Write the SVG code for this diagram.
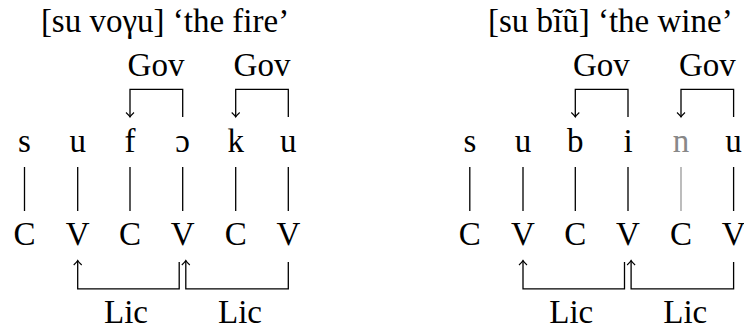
<svg xmlns="http://www.w3.org/2000/svg" width="744" height="334" viewBox="0 0 744 334">
<style>
text{font-family:"Liberation Serif","Times New Roman",serif;font-size:33px;fill:#000;text-anchor:middle}
.gray{fill:#888}
.ln{stroke:#000;stroke-width:1.3;fill:none}
.lg{stroke:#999;stroke-width:1.3;fill:none}
.arr{marker-end:url(#ah)}
</style>
<defs>
<marker id="ah" markerUnits="userSpaceOnUse" viewBox="-6 -6 8 12" refX="0" refY="0" markerWidth="8" markerHeight="12" orient="auto" overflow="visible">
<path d="M-4.5,-4 Q-1.5,-0.8 0,0 Q-1.5,0.8 -4.5,4" fill="none" stroke="#000" stroke-width="1.1"/>
</marker>
</defs>
<rect width="744" height="334" fill="#fff"/>

<!-- Left panel: [su voγu] -->
<g id="panel-fire">
<g id="title-fire"><text x="165" y="32">[su voγu] ‘the fire’</text></g>
<g id="gov1-fire"><text x="156" y="76">Gov</text></g>
<g id="gov2-fire"><text x="262" y="76">Gov</text></g>
<g id="seg-s-1"><text x="24.5" y="152">s</text></g>
<g id="seg-u-1"><text x="77.7" y="152">u</text></g>
<g id="seg-f-1"><text x="130" y="152">f</text></g>
<g id="seg-o-1"><text x="182.7" y="152">ɔ</text></g>
<g id="seg-k-1"><text x="235.7" y="152">k</text></g>
<g id="seg-u2-1"><text x="288.3" y="152">u</text></g>
<g id="cv-C1-1"><text x="24.5" y="245">C</text></g>
<g id="cv-V1-1"><text x="77.7" y="245">V</text></g>
<g id="cv-C2-1"><text x="130" y="245">C</text></g>
<g id="cv-V2-1"><text x="182.7" y="245">V</text></g>
<g id="cv-C3-1"><text x="235.7" y="245">C</text></g>
<g id="cv-V3-1"><text x="288.3" y="245">V</text></g>
<g id="lic1-fire"><text x="126" y="323">Lic</text></g>
<g id="lic2-fire"><text x="240" y="323">Lic</text></g>
</g>

<!-- Right panel: [su bĩũ] -->
<g id="panel-wine">
<g id="title-wine"><text x="610.3" y="32">[su bĩũ] ‘the wine’</text></g>
<g id="gov1-wine"><text x="601.3" y="76">Gov</text></g>
<g id="gov2-wine"><text x="707.3" y="76">Gov</text></g>
<g id="seg-s-2"><text x="469.8" y="152">s</text></g>
<g id="seg-u-2"><text x="523" y="152">u</text></g>
<g id="seg-b-2"><text x="575.3" y="152">b</text></g>
<g id="seg-i-2"><text x="628" y="152">i</text></g>
<g id="seg-n-2"><text class="gray" x="681" y="152">n</text></g>
<g id="seg-u2-2"><text x="733.6" y="152">u</text></g>
<g id="cv-C1-2"><text x="469.8" y="245">C</text></g>
<g id="cv-V1-2"><text x="523" y="245">V</text></g>
<g id="cv-C2-2"><text x="575.3" y="245">C</text></g>
<g id="cv-V2-2"><text x="628" y="245">V</text></g>
<g id="cv-C3-2"><text x="681" y="245">C</text></g>
<g id="cv-V3-2"><text x="733.6" y="245">V</text></g>
<g id="lic1-wine"><text x="571.3" y="323">Lic</text></g>
<g id="lic2-wine"><text x="685.3" y="323">Lic</text></g>
</g>

<g id="connectors">
<!-- association lines, left -->
<path class="ln" d="M24.5,167V211M77.7,167V211M130,167V211M182.7,167V211M235.7,167V211M288.3,167V211"/>
<!-- Gov brackets left -->
<path class="ln arr" d="M182.7,117V89.3H130V117"/>
<path class="ln arr" d="M288.3,117V89.3H235.7V117"/>
<!-- Lic brackets left -->
<path class="ln arr" d="M179.2,262V288.8H77.7V260.5"/>
<path class="ln arr" d="M288.3,262V288.8H185.8V260.5"/>

<!-- association lines, right -->
<path class="ln" d="M469.8,167V211M523,167V211M575.3,167V211M628,167V211M733.6,167V211"/>
<path class="lg" d="M681,167V211"/>
<!-- Gov brackets right -->
<path class="ln arr" d="M628,117V89.3H575.3V117"/>
<path class="ln arr" d="M733.6,117V89.3H681V117"/>
<!-- Lic brackets right -->
<path class="ln arr" d="M624.5,262V288.8H523V260.5"/>
<path class="ln arr" d="M733.6,262V288.8H631.1V260.5"/>
</g>
</svg>
